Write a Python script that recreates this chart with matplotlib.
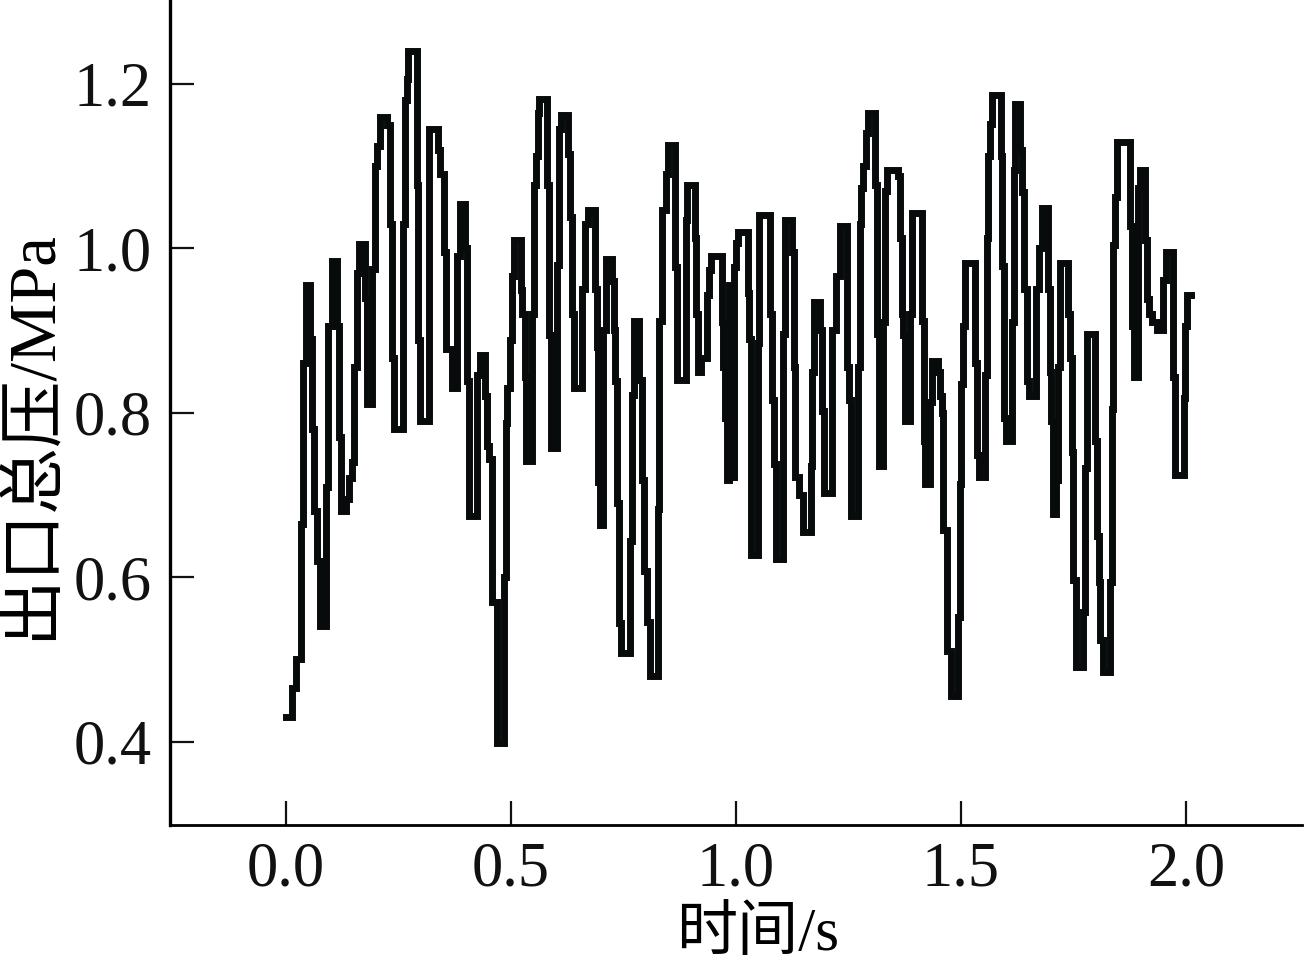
import matplotlib
matplotlib.use("Agg")
import matplotlib.pyplot as plt

# outlet total pressure trace, step levels (t in s, p in MPa)
time_s = [
    0.000, 0.012, 0.022, 0.032, 0.038, 0.045, 0.053, 0.057, 0.061, 0.068,
    0.075, 0.088, 0.094, 0.101, 0.113, 0.117, 0.121, 0.133, 0.140, 0.147,
    0.152, 0.157, 0.163, 0.175, 0.180, 0.192, 0.198, 0.203, 0.209, 0.225,
    0.232, 0.236, 0.240, 0.260, 0.264, 0.268, 0.272, 0.290, 0.294, 0.298,
    0.318, 0.338, 0.342, 0.350, 0.356, 0.369, 0.380, 0.387, 0.398, 0.402,
    0.406, 0.425, 0.430, 0.442, 0.446, 0.450, 0.458, 0.468, 0.485, 0.488,
    0.492, 0.497, 0.502, 0.507, 0.522, 0.525, 0.530, 0.534, 0.547, 0.551,
    0.555, 0.559, 0.563, 0.580, 0.584, 0.588, 0.602, 0.606, 0.610, 0.627,
    0.631, 0.635, 0.640, 0.658, 0.664, 0.670, 0.687, 0.690, 0.694, 0.698,
    0.704, 0.712, 0.724, 0.728, 0.732, 0.736, 0.740, 0.745, 0.765, 0.769,
    0.773, 0.784, 0.790, 0.796, 0.802, 0.808, 0.826, 0.830, 0.835, 0.845,
    0.850, 0.864, 0.868, 0.888, 0.892, 0.908, 0.912, 0.916, 0.922, 0.935,
    0.940, 0.945, 0.968, 0.972, 0.976, 0.980, 0.985, 0.990, 0.996, 1.000,
    1.004, 1.026, 1.030, 1.034, 1.048, 1.052, 1.076, 1.080, 1.084, 1.090,
    1.104, 1.108, 1.124, 1.128, 1.132, 1.140, 1.148, 1.166, 1.170, 1.174,
    1.187, 1.191, 1.195, 1.213, 1.222, 1.231, 1.247, 1.251, 1.255, 1.271,
    1.275, 1.279, 1.283, 1.288, 1.293, 1.309, 1.313, 1.317, 1.327, 1.332,
    1.336, 1.360, 1.364, 1.368, 1.372, 1.376, 1.387, 1.391, 1.413, 1.417,
    1.421, 1.431, 1.436, 1.449, 1.453, 1.457, 1.461, 1.470, 1.478, 1.493,
    1.497, 1.501, 1.505, 1.510, 1.531, 1.535, 1.540, 1.553, 1.557, 1.561,
    1.565, 1.570, 1.588, 1.592, 1.596, 1.600, 1.613, 1.617, 1.621, 1.631,
    1.636, 1.641, 1.646, 1.651, 1.668, 1.674, 1.680, 1.693, 1.697, 1.701,
    1.705, 1.711, 1.715, 1.720, 1.738, 1.742, 1.746, 1.750, 1.756, 1.771,
    1.775, 1.780, 1.798, 1.802, 1.806, 1.810, 1.815, 1.831, 1.835, 1.839,
    1.843, 1.848, 1.876, 1.880, 1.884, 1.893, 1.897, 1.909, 1.913, 1.918,
    1.925, 1.935, 1.950, 1.955, 1.971, 1.975, 1.995, 1.999, 2.003, 2.012,
]
pressure_mpa = [
    0.430, 0.465, 0.500, 0.665, 0.860, 0.955, 0.890, 0.780, 0.680, 0.620,
    0.540, 0.710, 0.905, 0.985, 0.905, 0.770, 0.680, 0.695, 0.720, 0.740,
    0.855, 0.970, 1.005, 0.940, 0.810, 0.975, 1.100, 1.125, 1.160, 1.150,
    1.030, 0.866, 0.780, 1.030, 1.180, 1.206, 1.240, 1.077, 0.888, 0.790,
    1.145, 1.120, 1.090, 0.996, 0.877, 0.830, 0.990, 1.054, 1.000, 0.838,
    0.674, 0.846, 0.870, 0.820, 0.760, 0.744, 0.570, 0.398, 0.600, 0.788,
    0.830, 0.888, 0.966, 1.010, 0.949, 0.920, 0.844, 0.741, 0.920, 1.077,
    1.112, 1.165, 1.182, 1.077, 0.894, 0.757, 0.980, 1.145, 1.162, 1.115,
    1.038, 0.920, 0.830, 0.950, 1.030, 1.046, 0.950, 0.880, 0.716, 0.663,
    0.900, 0.987, 0.960, 0.900, 0.838, 0.690, 0.544, 0.508, 0.644, 0.822,
    0.912, 0.840, 0.718, 0.607, 0.546, 0.480, 0.683, 0.912, 1.046, 1.090,
    1.126, 0.977, 0.840, 1.034, 1.077, 1.012, 0.920, 0.849, 0.866, 0.943,
    0.973, 0.990, 0.910, 0.855, 0.794, 0.718, 0.955, 0.722, 0.977, 1.007,
    1.020, 0.946, 0.890, 0.627, 0.885, 1.040, 0.920, 0.816, 0.738, 0.622,
    0.896, 1.034, 0.996, 0.855, 0.722, 0.700, 0.655, 0.735, 0.849, 0.935,
    0.900, 0.802, 0.702, 0.900, 0.966, 1.027, 0.855, 0.816, 0.674, 0.855,
    1.029, 1.073, 1.100, 1.140, 1.165, 1.077, 0.896, 0.735, 0.910, 1.070,
    1.095, 1.088, 1.012, 0.920, 0.894, 0.790, 0.920, 1.043, 0.912, 0.766,
    0.713, 0.813, 0.863, 0.850, 0.820, 0.800, 0.657, 0.510, 0.455, 0.552,
    0.713, 0.835, 0.905, 0.982, 0.860, 0.749, 0.722, 0.846, 1.012, 1.112,
    1.151, 1.187, 1.112, 0.979, 0.794, 0.766, 0.910, 1.095, 1.176, 1.120,
    1.068, 0.951, 0.838, 0.820, 0.950, 1.000, 1.049, 0.951, 0.849, 0.790,
    0.677, 0.718, 0.855, 0.982, 0.920, 0.866, 0.752, 0.596, 0.491, 0.558,
    0.733, 0.896, 0.766, 0.650, 0.594, 0.524, 0.485, 0.594, 0.805, 1.004,
    1.062, 1.129, 1.027, 0.905, 0.844, 1.073, 1.095, 1.010, 0.938, 0.920,
    0.910, 0.900, 0.962, 0.996, 0.844, 0.724, 0.818, 0.905, 0.943, 0.943,
]

x_ticks = [0.0, 0.5, 1.0, 1.5, 2.0]
y_ticks = [0.4, 0.6, 0.8, 1.0, 1.2]
x_label = "时间/s"
y_label = "出口总压/MPa"

fonts = ["Liberation Serif", "Noto Sans CJK SC"]
plt.rcParams["font.family"] = fonts

fig = plt.figure(figsize=(13.04, 9.65), dpi=100)
ax = fig.add_axes([0.1304, 0.1451, 0.868, 0.8549])

# step trace, thick black like the scanned original
ax.plot(time_s, pressure_mpa, drawstyle="steps-post", color="#070b0b",
        linewidth=5.0, solid_joinstyle="miter")

ax.set_xlim(-0.258, 2.258)
ax.set_ylim(0.2985, 1.302)
ax.set_xticks(x_ticks)
ax.set_yticks(y_ticks)
ax.set_xticklabels([f"{v:.1f}" for v in x_ticks])
ax.set_yticklabels([f"{v:.1f}" for v in y_ticks])

ax.tick_params(direction="in", length=17, width=1.6, labelsize=45,
               colors="#111111")
ax.tick_params(axis="y", pad=13)
ax.tick_params(axis="x", pad=12)

for side in ["top", "right"]:
    ax.spines[side].set_visible(False)
ax.spines["left"].set_linewidth(2.4)
ax.spines["bottom"].set_linewidth(2.0)

ax.set_xlabel(x_label, fontsize=44, ha="center", va="center")
ax.xaxis.set_label_coords(0.519, -0.133)
ax.set_ylabel(y_label, fontsize=48, ha="center", va="center")
ax.yaxis.set_label_coords(-0.122, 0.473)

fig.savefig("out.png", dpi=100, facecolor="white")
